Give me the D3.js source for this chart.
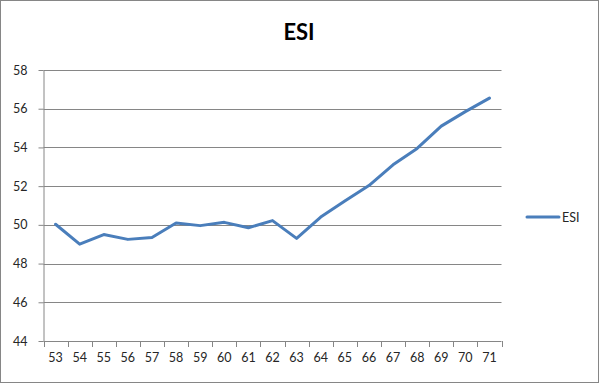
<!DOCTYPE html>
<html><head><meta charset="utf-8">
<script src="https://cdn.jsdelivr.net/npm/d3@7"></script>
<style>body{margin:0;background:#fff}svg{display:block}</style>
</head><body><svg id="c" width="601" height="384"></svg>
<script>
const categories = ["53","54","55","56","57","58","59","60","61","62","63","64","65","66","67","68","69","70","71"];
const esiValues = [50.03,49.0,49.5,49.25,49.35,50.1,49.96,50.13,49.85,50.22,49.3,50.4,51.23,52.03,53.1,53.95,55.1,55.85,56.55];
const yTicks = [44,46,48,50,52,54,56,58];
const seriesName = "ESI";
const titleText = "ESI";

const svg = d3.select("#c");
const font = "Lato, Calibri, 'Open Sans', sans-serif";
const gridColor = "#868686";
const lineColor = "#4A7EBB";

svg.append("rect").attr("x",0.5).attr("y",0.5).attr("width",598).attr("height",382)
  .attr("fill","#fff").attr("stroke","#868686").attr("stroke-width",1);

const L = 43.5, R = 501.5, T = 70, B = 341;
const x = d3.scaleBand().domain(categories).range([L, R]);
const y = d3.scaleLinear().domain([44,58]).range([B, T]);

// gridlines
svg.append("g").selectAll("line").data(yTicks.filter(d=>d!==44)).join("line")
  .attr("x1",L).attr("x2",R).attr("y1",d=>Math.round(y(d))+0.5).attr("y2",d=>Math.round(y(d))+0.5)
  .attr("stroke",gridColor).attr("stroke-width",1);

// y axis
const yAxis = d3.axisLeft(y).tickValues(yTicks).tickSize(5).tickPadding(11).tickSizeOuter(0);
const gy = svg.append("g").attr("transform",`translate(${L},0)`).call(yAxis);
gy.select(".domain").attr("stroke",gridColor);
gy.selectAll(".tick line").attr("stroke",gridColor);
gy.selectAll(".tick text").attr("font-family",font).attr("font-size",12.5).attr("fill","#262626");

// x axis
const xAxis = d3.axisBottom(x).tickSize(0).tickPadding(12);
const gx = svg.append("g").attr("transform",`translate(0,${B+0.5})`).call(xAxis);
gx.select(".domain").attr("stroke",gridColor).attr("d",`M${L},0H${R}`);
gx.selectAll(".tick text").attr("font-family",font).attr("font-size",12.5).attr("fill","#262626");
// category boundary ticks
const bounds = categories.map(c=>x(c)).concat([x(categories[categories.length-1])+x.bandwidth()]);
svg.append("g").selectAll("line").data(bounds).join("line")
  .attr("x1",d=>Math.round(d)+0.5).attr("x2",d=>Math.round(d)+0.5)
  .attr("y1",B).attr("y2",B+6).attr("stroke",gridColor);

// line
const line = d3.line().x((d,i)=>x(categories[i])+x.bandwidth()/2).y(d=>y(d));
svg.append("path").datum(esiValues).attr("d",line).attr("fill","none")
  .attr("stroke",lineColor).attr("stroke-width",3).attr("stroke-linejoin","round").attr("stroke-linecap","round");

// title
svg.append("text").attr("x",299).attr("y",40).attr("text-anchor","middle")
  .attr("font-family",font).attr("font-weight","bold").attr("font-size",22).attr("fill","#000").text(titleText);

// legend
svg.append("line").attr("x1",527).attr("x2",559).attr("y1",217).attr("y2",217)
  .attr("stroke",lineColor).attr("stroke-width",3).attr("stroke-linecap","round");
svg.append("text").attr("x",562).attr("y",221.5).attr("font-family",font).attr("font-size",12.5)
  .attr("fill","#262626").text(seriesName);
</script></body></html>
